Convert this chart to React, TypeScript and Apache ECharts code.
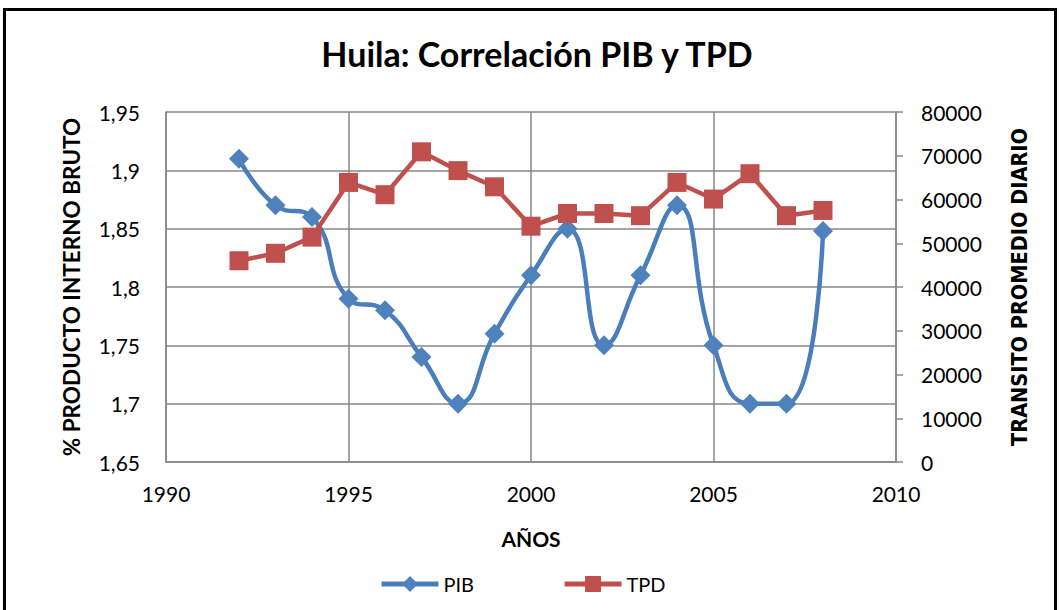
import React, { useEffect, useRef } from "react";
import * as echarts from "echarts";

const years = [1992, 1993, 1994, 1995, 1996, 1997, 1998, 1999, 2000, 2001, 2002, 2003, 2004, 2005, 2006, 2007, 2008];
const pib = [1.91, 1.87, 1.86, 1.79, 1.78, 1.74, 1.7, 1.76, 1.81, 1.85, 1.75, 1.81, 1.87, 1.75, 1.7, 1.7, 1.848];
const tpd = [46000, 47700, 51400, 63900, 61100, 70900, 66600, 62900, 53900, 56800, 56800, 56300, 63900, 60100, 65900, 56300, 57500];

const titleText = "Huila: Correlación PIB y TPD";
const leftName = "% PRODUCTO INTERNO BRUTO";
const rightName = "TRANSITO PROMEDIO DIARIO";
const xName = "AÑOS";

const BLUE = "#4A7EBB";
const RED = "#C0504D";
const GRID = "#878787";
const FONT = "Lato";

export default function App() {
  const ref = useRef<HTMLDivElement>(null);
  useEffect(() => {
    if (!ref.current) return;
    const chart = echarts.init(ref.current, null, { renderer: "svg" });
    chart.setOption({
      animation: false,
      backgroundColor: "#ffffff",
      textStyle: { fontFamily: FONT },
      title: {
        text: titleText,
        left: 532,
        textAlign: "center",
        top: 31,
        textStyle: { fontFamily: FONT, fontWeight: "bold", fontSize: 34, color: "#000" },
      },
      graphic: [
        {
          type: "rect",
          shape: { x: 4.5, y: 9.5, width: 1051, height: 640 },
          style: { fill: "none", stroke: "#000", lineWidth: 3 },
          silent: true,
          z: 100,
        },
      ],
      legend: {
        left: 374,
        top: 569,
        itemWidth: 57,
        itemHeight: 20,
        itemGap: 88,
        lineStyle: { width: 5 },
        textStyle: { fontFamily: FONT, fontSize: 20, color: "#000" },
        data: ["PIB", "TPD"],
      },
      grid: { left: 166, right: 164, top: 112, bottom: 148 },
      xAxis: {
        type: "value",
        min: 1990,
        max: 2010,
        interval: 5,
        name: xName,
        nameLocation: "middle",
        nameGap: 66,
        nameTextStyle: { fontFamily: FONT, fontWeight: "bold", fontSize: 21, color: "#000" },
        axisLine: { show: true, lineStyle: { color: GRID, width: 1.5 } },
        axisTick: { show: false },
        axisLabel: {
          margin: 21,
          fontFamily: FONT,
          fontSize: 21,
          color: "#000",
          formatter: (v: number) => String(Math.round(v)),
        },
        splitLine: { show: true, lineStyle: { color: GRID, width: 1.5 } },
      },
      yAxis: [
        {
          type: "value",
          min: 1.65,
          max: 1.95,
          interval: 0.05,
          position: "left",
          name: leftName,
          nameLocation: "middle",
          nameGap: 83,
          nameTextStyle: { fontFamily: FONT, fontWeight: "bold", fontSize: 22.5, color: "#000" },
          axisLine: { show: true, lineStyle: { color: GRID, width: 1.5 } },
          axisTick: { show: false },
          axisLabel: {
            margin: 26,
            fontFamily: FONT,
            fontSize: 21,
            color: "#000",
            formatter: (v: number) => String(+v.toFixed(2)).replace(".", ","),
          },
          splitLine: { show: true, lineStyle: { color: GRID, width: 1.5 } },
        },
        {
          type: "value",
          min: 0,
          max: 80000,
          interval: 10000,
          position: "right",
          name: rightName,
          nameLocation: "middle",
          nameGap: 112,
          nameRotate: 90,
          nameTextStyle: {
            fontFamily: "'DejaVu Sans Condensed', 'Liberation Sans', sans-serif",
            fontWeight: "bold",
            fontSize: 21.5,
            color: "#000",
          },
          axisLine: { show: true, lineStyle: { color: GRID, width: 1.5 } },
          axisTick: { show: true, length: 7, lineStyle: { color: GRID, width: 1.5 } },
          axisLabel: {
            margin: 25,
            fontFamily: FONT,
            fontSize: 21,
            color: "#000",
            formatter: (v: number) => String(Math.round(v)),
          },
          splitLine: { show: false },
        },
      ],
      series: [
        {
          name: "PIB",
          type: "line",
          yAxisIndex: 0,
          data: years.map((y, i) => [y, pib[i]]),
          smooth: 0.5,
          symbol: "diamond",
          symbolSize: 20,
          lineStyle: { color: BLUE, width: 4.5 },
          itemStyle: { color: "#4F81BD" },
          z: 2,
        },
        {
          name: "TPD",
          type: "line",
          yAxisIndex: 1,
          data: years.map((y, i) => [y, tpd[i]]),
          symbol: "rect",
          symbolSize: 19,
          lineStyle: { color: RED, width: 4.5 },
          itemStyle: { color: RED },
          z: 3,
        },
      ],
    });
    return () => chart.dispose();
  }, []);
  return (
    <div
      ref={ref}
      style={{ position: "absolute", left: 0, top: 0, width: 1060, height: 610 }}
    />
  );
}
